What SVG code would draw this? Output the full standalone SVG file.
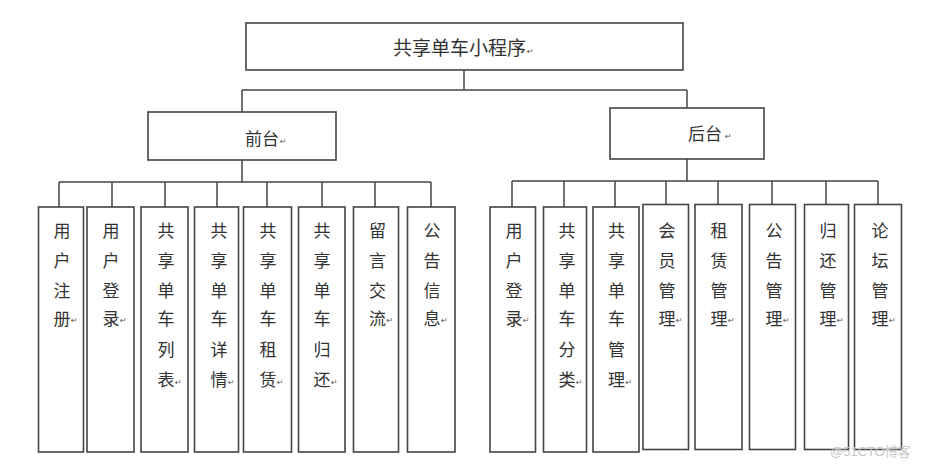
<svg xmlns="http://www.w3.org/2000/svg" width="926" height="468" viewBox="0 0 926 468">
<style>
.box{fill:#fff;stroke:#444;stroke-width:1.6}
.ln{fill:none;stroke:#444;stroke-width:1.5}
.t{font-family:"Noto Sans CJK SC","Noto Sans",sans-serif;font-size:17px;fill:#333}
.v{font-family:"Noto Sans CJK SC","Noto Sans",sans-serif;font-size:17px;fill:#333;text-anchor:middle}
.m{font-family:"DejaVu Sans",sans-serif;font-size:8px;fill:#555}
.wm{font-family:"Liberation Sans","Noto Sans CJK SC",sans-serif;font-size:13px;fill:#c8c8c8}
</style>
<rect width="926" height="468" fill="#fff"/>
<g id="connectors">
<path class="ln" d="M464,70V90M242,90H687M242,90V112M687,90V108"/>
<path class="ln" d="M242,160V182M59,182H431M59,182V207M112,182V207M165,182V207M217,182V207M267,182V207M322,182V207M375,182V207M431,182V207"/>
<path class="ln" d="M687,159V181M512,181H878M512,181V207M564,181V207M615,181V207M666,181V204M718,181V204M772,181V204M826,181V204M878,181V204"/>
</g>
<g id="root"><rect class="box" x="246" y="23" width="437" height="47"/><text class="t" x="393" y="55" style="font-size:19px">共享单车小程序</text><text class="m" x="527" y="54">↵</text></g>
<g id="qiantai"><rect class="box" x="148" y="112" width="188" height="48"/><text class="t" x="245" y="144.5">前台</text><text class="m" x="280" y="144">↵</text></g>
<g id="houtai"><rect class="box" x="610" y="108" width="154" height="51"/><text class="t" x="688" y="139.5">后台</text><text class="m" x="725" y="139">↵</text></g>

<g id="l1"><rect class="box" x="38.5" y="207" width="45" height="245"/><text class="v"><tspan x="62" y="236.5">用</tspan><tspan x="62" dy="30">户</tspan><tspan x="62" dy="30">注</tspan><tspan x="62" dy="28">册</tspan></text><text class="m" x="71" y="323">↵</text></g>
<g id="l2"><rect class="box" x="87" y="207" width="47" height="245"/><text class="v"><tspan x="111" y="236.5">用</tspan><tspan x="111" dy="30">户</tspan><tspan x="111" dy="30">登</tspan><tspan x="111" dy="28">录</tspan></text><text class="m" x="120" y="323">↵</text></g>
<g id="l3"><rect class="box" x="141" y="207" width="47" height="245"/><text class="v"><tspan x="166" y="236.5">共</tspan><tspan x="166" dy="30">享</tspan><tspan x="166" dy="30">单</tspan><tspan x="166" dy="28">车</tspan><tspan x="166" dy="31">列</tspan><tspan x="166" dy="30">表</tspan></text><text class="m" x="175" y="385">↵</text></g>
<g id="l4"><rect class="box" x="194.5" y="207" width="44" height="245"/><text class="v"><tspan x="219" y="236.5">共</tspan><tspan x="219" dy="30">享</tspan><tspan x="219" dy="30">单</tspan><tspan x="219" dy="28">车</tspan><tspan x="219" dy="31">详</tspan><tspan x="219" dy="30">情</tspan></text><text class="m" x="228" y="385">↵</text></g>
<g id="l5"><rect class="box" x="243.5" y="207" width="48" height="245"/><text class="v"><tspan x="268" y="236.5">共</tspan><tspan x="268" dy="30">享</tspan><tspan x="268" dy="30">单</tspan><tspan x="268" dy="28">车</tspan><tspan x="268" dy="31">租</tspan><tspan x="268" dy="30">赁</tspan></text><text class="m" x="277" y="385">↵</text></g>
<g id="l6"><rect class="box" x="298.5" y="207" width="46.5" height="245"/><text class="v"><tspan x="322" y="236.5">共</tspan><tspan x="322" dy="30">享</tspan><tspan x="322" dy="30">单</tspan><tspan x="322" dy="28">车</tspan><tspan x="322" dy="31">归</tspan><tspan x="322" dy="30">还</tspan></text><text class="m" x="331" y="385">↵</text></g>
<g id="l7"><rect class="box" x="353.5" y="207" width="45" height="245"/><text class="v"><tspan x="377.5" y="236.5">留</tspan><tspan x="377.5" dy="30">言</tspan><tspan x="377.5" dy="30">交</tspan><tspan x="377.5" dy="28">流</tspan></text><text class="m" x="386.5" y="323">↵</text></g>
<g id="l8"><rect class="box" x="407.5" y="207" width="47.5" height="245"/><text class="v"><tspan x="432" y="236.5">公</tspan><tspan x="432" dy="30">告</tspan><tspan x="432" dy="30">信</tspan><tspan x="432" dy="28">息</tspan></text><text class="m" x="441" y="323">↵</text></g>

<g id="r1"><rect class="box" x="490" y="207" width="45.5" height="245"/><text class="v"><tspan x="514" y="236.5">用</tspan><tspan x="514" dy="30">户</tspan><tspan x="514" dy="30">登</tspan><tspan x="514" dy="28">录</tspan></text><text class="m" x="523" y="323">↵</text></g>
<g id="r2"><rect class="box" x="543.5" y="207" width="43" height="245"/><text class="v"><tspan x="567" y="236.5">共</tspan><tspan x="567" dy="30">享</tspan><tspan x="567" dy="30">单</tspan><tspan x="567" dy="28">车</tspan><tspan x="567" dy="31">分</tspan><tspan x="567" dy="30">类</tspan></text><text class="m" x="576" y="385">↵</text></g>
<g id="r3"><rect class="box" x="593" y="207" width="46" height="245"/><text class="v"><tspan x="616.5" y="236.5">共</tspan><tspan x="616.5" dy="30">享</tspan><tspan x="616.5" dy="30">单</tspan><tspan x="616.5" dy="28">车</tspan><tspan x="616.5" dy="31">管</tspan><tspan x="616.5" dy="30">理</tspan></text><text class="m" x="625.5" y="385">↵</text></g>
<g id="r4"><rect class="box" x="643" y="204.5" width="45.5" height="245"/><text class="v"><tspan x="667" y="236.5">会</tspan><tspan x="667" dy="30">员</tspan><tspan x="667" dy="30">管</tspan><tspan x="667" dy="28">理</tspan></text><text class="m" x="676" y="323">↵</text></g>
<g id="r5"><rect class="box" x="695" y="204.5" width="47" height="245"/><text class="v"><tspan x="719" y="236.5">租</tspan><tspan x="719" dy="30">赁</tspan><tspan x="719" dy="30">管</tspan><tspan x="719" dy="28">理</tspan></text><text class="m" x="728" y="323">↵</text></g>
<g id="r6"><rect class="box" x="749.5" y="204.5" width="46" height="245"/><text class="v"><tspan x="774" y="236.5">公</tspan><tspan x="774" dy="30">告</tspan><tspan x="774" dy="30">管</tspan><tspan x="774" dy="28">理</tspan></text><text class="m" x="783" y="323">↵</text></g>
<g id="r7"><rect class="box" x="804.5" y="204.5" width="44" height="245"/><text class="v"><tspan x="828" y="236.5">归</tspan><tspan x="828" dy="30">还</tspan><tspan x="828" dy="30">管</tspan><tspan x="828" dy="28">理</tspan></text><text class="m" x="837" y="323">↵</text></g>
<g id="r8"><rect class="box" x="854.5" y="204.5" width="47" height="245"/><text class="v"><tspan x="880" y="236.5">论</tspan><tspan x="880" dy="30">坛</tspan><tspan x="880" dy="30">管</tspan><tspan x="880" dy="28">理</tspan></text><text class="m" x="889" y="323">↵</text></g>

<text class="wm" x="830" y="456">@51CTO博客</text>
</svg>
